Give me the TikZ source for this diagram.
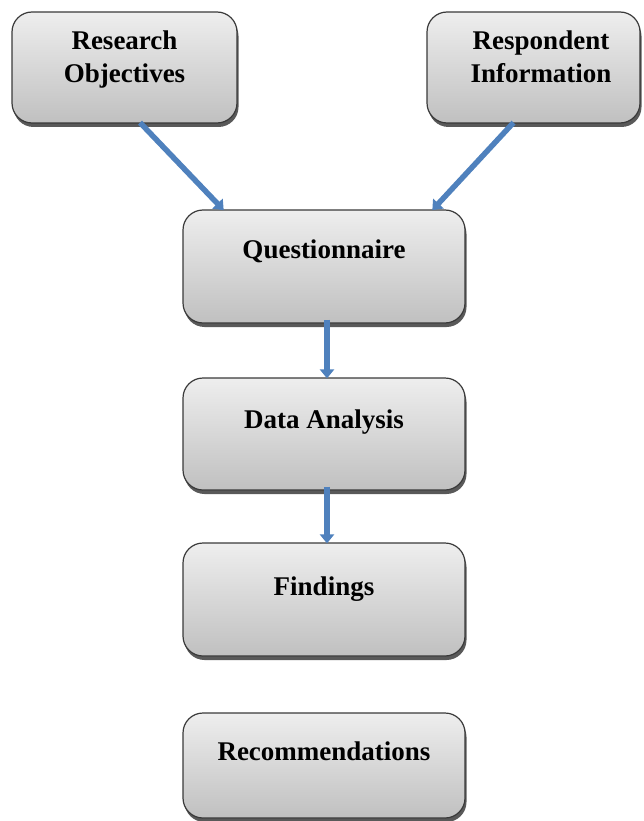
\documentclass[tikz,border=0pt]{standalone}
\usepackage{fontspec}
\setmainfont{Liberation Serif}
\usetikzlibrary{arrows.meta,shadows}
\definecolor{boxtop}{RGB}{238,238,238}
\definecolor{boxbot}{RGB}{192,192,192}
\definecolor{boxline}{RGB}{58,58,58}
\definecolor{arrowblue}{RGB}{79,129,189}
\tikzset{
  fbox/.style={rectangle, rounded corners=20pt, draw=boxline, line width=1.2pt,
    top color=boxtop, bottom color=boxbot, inner sep=0pt,
    drop shadow={shadow xshift=1.5pt, shadow yshift=-4pt, fill=black!65, opacity=1}},
  lbl/.style={font=\bfseries\fontsize{27}{33}\selectfont, align=center, inner sep=0pt},
  flow/.style={draw=arrowblue, line width=5.5pt,
    -{Triangle[width=14pt,length=9pt]}, shorten >=-1pt}
}
\begin{document}
\begin{tikzpicture}[x=1pt,y=-1pt]
\useasboundingbox (0,0) rectangle (643,821);
\node[fbox, minimum width=225pt, minimum height=111pt] (ro) at (124.5,67.5) {};
\node[fbox, minimum width=213pt, minimum height=111pt] (ri) at (533.5,67.5) {};
\node[fbox, minimum width=282pt, minimum height=113pt] (q) at (324,266.5) {};
\node[fbox, minimum width=282pt, minimum height=112pt] (da) at (324,434) {};
\node[fbox, minimum width=282pt, minimum height=113pt] (f) at (324,599.5) {};
\node[fbox, minimum width=282pt, minimum height=105pt] (r) at (324,765.5) {};

\node[lbl, anchor=base] (rot) at (124.5,83) {Research\\Objectives};
\node[lbl, anchor=base] (rit) at (541,83) {Respondent\\Information};
\node[lbl, anchor=base] (qt) at (324,258) {Questionnaire};
\node[lbl, anchor=base] (dat) at (324,428) {Data Analysis};
\node[lbl, anchor=base] (ft) at (324,595) {Findings};
\node[lbl, anchor=base] (rt) at (324,760) {Recommendations};

\draw[flow] ([xshift=15.5pt,yshift=1pt]ro.south) -- ([xshift=-101pt]q.north);
\draw[flow] ([xshift=-20pt,yshift=1pt]ri.south) -- ([xshift=109pt]q.north);
\draw[flow] ([xshift=3pt,yshift=4pt]q.south) -- ([xshift=3pt]da.north);
\draw[flow] ([xshift=3pt,yshift=4pt]da.south) -- ([xshift=3pt]f.north);
\end{tikzpicture}
\end{document}
